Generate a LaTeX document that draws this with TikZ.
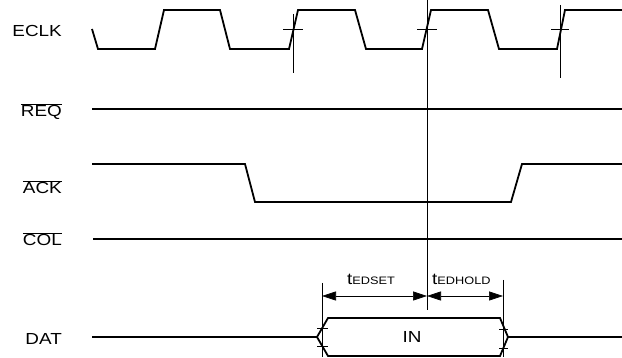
\documentclass[tikz,border=0pt]{standalone}
\usepackage{fontspec}
\setmainfont{Liberation Sans}[FakeStretch=1.18]
\usepackage{tikz}
\usetikzlibrary{arrows.meta}

\begin{document}
\begin{tikzpicture}[x=1pt, y=-1pt,
  sig/.style={line width=1.8pt},
  guide/.style={line width=0.6pt},
  lbl/.style={anchor=base east, inner sep=0pt, font=\fontsize{16}{18}\selectfont},
  sub/.style={anchor=base west, inner sep=0pt, font=\fontsize{16}{18}\selectfont},
  dim/.style={line width=0.6pt, {Triangle[length=14pt,width=9pt]}-{Triangle[length=14pt,width=9pt]}}]
\useasboundingbox (0,0) rectangle (622,358);

\node[lbl] (eclk) at (62,37) {ECLK};
\node[lbl] (req) at (62,116.5) {$\overline{\mbox{REQ}}$};
\node[lbl] (ack) at (62,194) {$\overline{\mbox{ACK}}$};
\node[lbl] (col) at (62,246) {$\overline{\mbox{COL}}$};
\node[lbl] (dat) at (62,345) {DAT};

\draw[sig] (92,29) -- (98,49) -- (155,49) -- (164,10) -- (220,10) -- (230,49) -- (289,49) -- (298,10) -- (355,10) -- (366,49) -- (422,49) -- (431,10) -- (488,10) -- (499,49) -- (557,49) -- (565,10) -- (622,10);

\draw[guide] (293,14) -- (293,73);
\draw[guide] (283,29.5) -- (303,29.5);
\draw[guide] (427,0) -- (427,310);
\draw[guide] (417,29.5) -- (437,29.5);
\draw[guide] (560,5) -- (560,78);
\draw[guide] (551,29.5) -- (569,29.5);

\draw[sig] (92,109) -- (622,109);

\draw[sig] (92,164) -- (245,164) -- (255,202) -- (511,202) -- (522,164) -- (622,164);

\draw[sig] (93,239) -- (622,239);

\node[lbl, anchor=base] (in) at (412,343) {IN};
\draw[sig] (92,337) -- (317,337);
\draw[sig] (317,337) -- (328,318) -- (500,318) -- (508,337) -- (500,356) -- (328,356) -- cycle;
\draw[sig] (508,337) -- (622,337);

\coordinate (setA) at (322,296);
\coordinate (setB) at (427,296);
\coordinate (holdB) at (503,296);
\draw[guide] (322,283) -- (322,357);
\draw[guide] (503,280) -- (503,357);
\draw[guide] (317,328.5) -- (328,328.5);
\draw[guide] (317,346.5) -- (328,346.5);
\draw[guide] (499,329) -- (508,329);
\draw[guide] (499,348) -- (508,348);
\draw[dim] (setA) -- (setB);
\draw[dim] (setB) -- (holdB);

\node[sub] (tset) at (347,285) {t{\fontsize{10.8}{12}\selectfont EDSET}};
\node[sub] (thold) at (432,285) {t{\fontsize{10.8}{12}\selectfont EDHOLD}};
\end{tikzpicture}
\end{document}
